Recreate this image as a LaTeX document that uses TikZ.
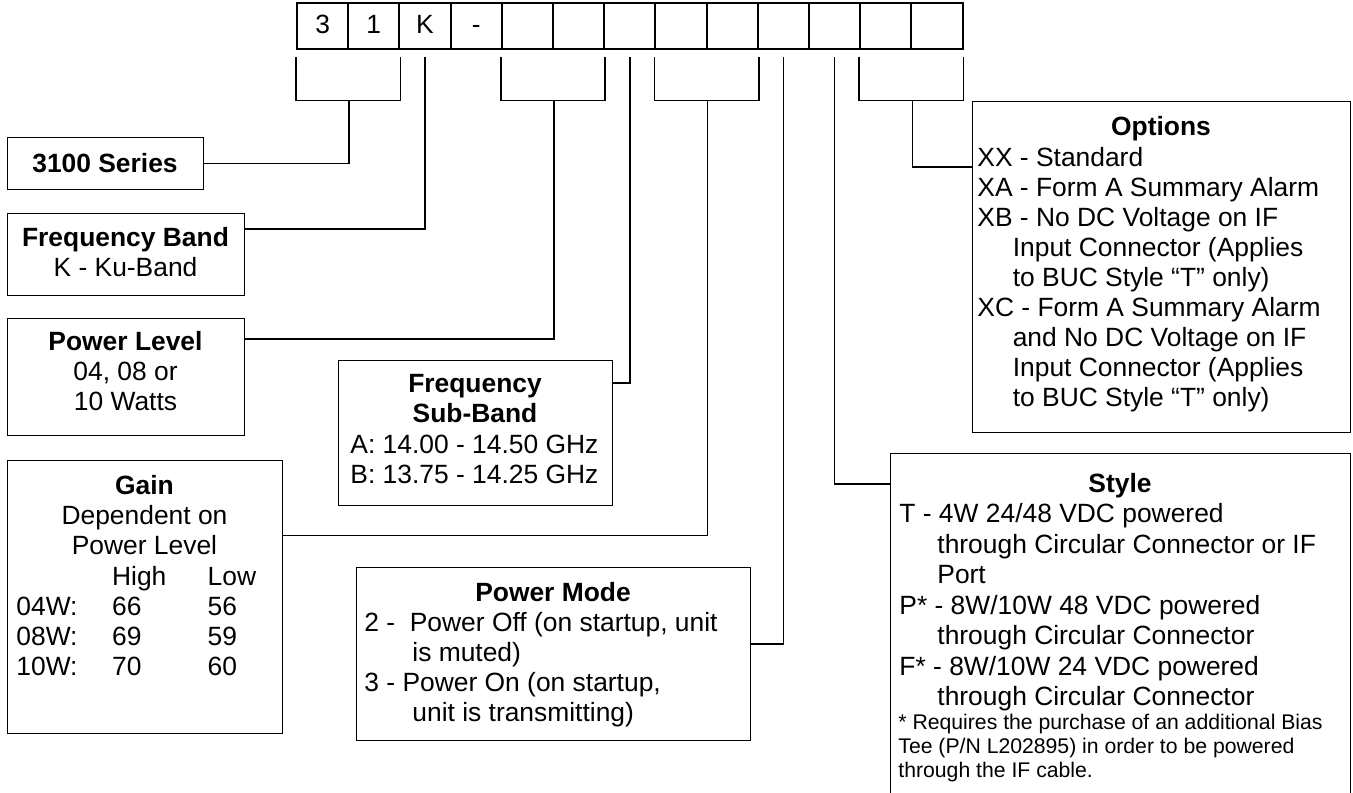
\documentclass[tikz,border=0pt]{standalone}
\usepackage{fontspec}
\setmainfont{Liberation Sans}
\usetikzlibrary{calc}
\newcommand\bodyfont{\fontsize{13.2}{15}\selectfont}
\newcommand\notefont{\fontsize{10.6}{12}\selectfont}
\tikzset{
  pncell/.style={draw,line width=1pt,minimum width=25.6pt,minimum height=23pt,
    inner sep=0pt,text height=0.716em,text depth=0pt},
  infobox/.style={draw,line width=0.6pt,inner sep=0pt,anchor=north west},
  lead/.style={line width=0.75pt},
  % multi-line texts are placed by the baseline of their last line
  boxtext/.style={inner sep=0pt,align=left,anchor=base west},
  boxtitle/.style={inner sep=0pt,align=center,anchor=base},
}

\begin{document}
\begin{tikzpicture}[x=0.5pt,y=-0.5pt,font=\bodyfont]
  \useasboundingbox (0,0) rectangle (1353,792);
  \clip (0,0) rectangle (1353,792);
  % part number cells
  \foreach \d [count=\i] in {3,1,K,-,{},{},{},{},{},{},{},{},{}}{
    \node[pncell] (pn\i) at ({271.4+51.2*\i},26.3) {\d};
  }
  % description boxes
  \node[infobox,minimum width=98pt,minimum height=26pt] (series) at (7,137) {};
  \node[infobox,minimum width=118.5pt,minimum height=41pt] (fband) at (7,213) {};
  \node[infobox,minimum width=118.5pt,minimum height=58.5pt] (plevel) at (7,318) {};
  \node[infobox,minimum width=137.5pt,minimum height=136.5pt] (gain) at (7,460) {};
  \node[infobox,minimum width=137pt,minimum height=72.5pt] (subband) at (338,360) {};
  \node[infobox,minimum width=197pt,minimum height=86.5pt] (pmode) at (356,567) {};
  \node[infobox,minimum width=189pt,minimum height=165.5pt] (options) at (972,101) {};
  \node[infobox,minimum width=230pt,minimum height=180pt] (style) at (890,453) {};
  % box texts
  \node[boxtitle] (seriest) at (105,172.5) {\textbf{3100 Series}};
  \node[boxtitle] (fbandt) at (125.5,276.5) {\textbf{Frequency Band}\\K - Ku-Band};
  \node[boxtitle] (plevelt) at (125.5,410.5) {\textbf{Power Level}\\04, 08 or\\10 Watts};
  \node[boxtitle] (gaint) at (144.5,554.5) {\textbf{Gain}\\Dependent on\\Power Level};
  \node[inner sep=0pt,anchor=base west] (gaintab) at (16,585.5)
    {\begin{tabular}[t]{@{}p{47.85pt}@{}p{47.8pt}@{}l@{}}
       & High & Low\\
     04W: & 66 & 56\\
     08W: & 69 & 59\\
     10W: & 70 & 60
     \end{tabular}};
  \node[boxtitle] (subbandt) at (475,422.5) {\textbf{Frequency}\\\textbf{Sub-Band}};
  \node[boxtext] (subbandl) at (350,483.5)
    {A: 14.00 - 14.50 GHz\\B: 13.75 - 14.25 GHz};
  \node[boxtitle] (pmodet) at (553,601.5) {\textbf{Power Mode}};
  \node[boxtext] (pmodel) at (364,721.5)
    {2 -\ \ Power Off (on startup, unit\\
     \hspace*{24pt}is muted)\\
     3 - Power On (on startup,\\
     \hspace*{24pt}unit is transmitting)};
  \node[boxtitle] (optionst) at (1161,135.5) {\textbf{Options}};
  \node[boxtext] (optionsl) at (977,406.5)
    {XX - Standard\\
     XA - Form A Summary Alarm\\
     XB - No DC Voltage on IF\\
     \hspace*{17.7pt}Input Connector (Applies\\
     \hspace*{17.7pt}to BUC Style “T” only)\\
     XC - Form A Summary Alarm\\
     \hspace*{17.7pt}and No DC Voltage on IF\\
     \hspace*{17.7pt}Input Connector (Applies\\
     \hspace*{17.7pt}to BUC Style “T” only)};
  \node[boxtitle] (stylet) at (1120,492) {\textbf{Style}};
  \node[boxtext,font=\fontsize{13.2}{15.25}\selectfont] (stylel) at (899,705.5)
    {T - 4W 24/48 VDC powered\\
     \hspace*{19pt}through Circular Connector or IF\\
     \hspace*{19pt}Port\\
     P* - 8W/10W 48 VDC powered\\
     \hspace*{19pt}through Circular Connector\\
     F* - 8W/10W 24 VDC powered\\
     \hspace*{19pt}through Circular Connector};
  \node[boxtext,font=\notefont] (stylenote) at (898,777.5)
    {* Requires the purchase of an additional Bias\\
     Tee (P/N L202895) in order to be powered\\
     through the IF cable.};
  % leads from the cells to the boxes
  \draw[lead] ($(pn1.south west)+(0,7)$) -- ($(pn1.south west)+(0,50)$) -| ($(pn2.south east)+(0,7)$);
  \draw[lead] ($(pn1.south east)+(0,50)$) |- (series.east);
  \draw[lead] ($(pn3.south)+(0,7)$) |- ([yshift=-8pt]fband.north east);
  \draw[lead] ($(pn5.south west)+(0,7)$) -- ($(pn5.south west)+(0,50)$) -| ($(pn6.south east)+(0,7)$);
  \draw[lead] ($(pn5.south east)+(0,50)$) |- ([yshift=-10.5pt]plevel.north east);
  \draw[lead] ($(pn7.south)+(0,7)$) |- ([yshift=-11.5pt]subband.north east);
  \draw[lead] ($(pn8.south west)+(0,7)$) -- ($(pn8.south west)+(0,50)$) -| ($(pn9.south east)+(0,7)$);
  \draw[lead] ($(pn8.south east)+(0,50)$) |- ([yshift=-37.75pt]gain.north east);
  \draw[lead] ($(pn10.south)+(0,7)$) |- ([yshift=-38.5pt]pmode.north east);
  \draw[lead] ($(pn11.south)+(0,7)$) |- ([yshift=-15.5pt]style.north west);
  \draw[lead] ($(pn12.south west)+(0,7)$) -- ($(pn12.south west)+(0,50)$) -| ($(pn13.south east)+(0,7)$);
  \draw[lead] ($(pn12.south east)+(0,50)$) |- ([yshift=-33pt]options.north west);
\end{tikzpicture}
\end{document}
